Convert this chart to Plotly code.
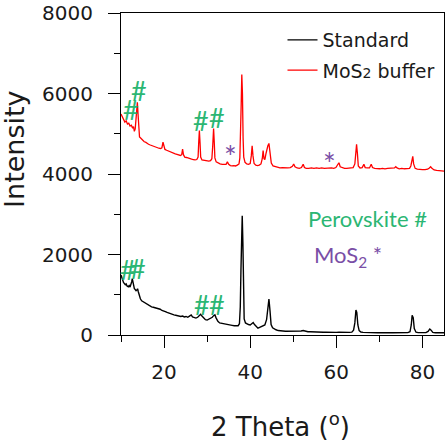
import plotly.graph_objects as go

# ---------------- data ----------------
std_x = [10.0, 10.2, 10.4, 10.6, 10.8, 11.0, 11.2, 11.4, 11.7, 11.9, 12.1, 12.3, 12.5, 12.62, 12.75,
         12.9, 13.1, 13.3, 13.5, 13.7, 13.85, 14.0, 14.2, 14.5, 14.8, 15.1, 15.5, 15.9, 16.3, 16.7,
         17.1, 17.5, 17.9, 18.3, 18.7, 19.1, 19.5, 19.9, 20.3, 20.7, 21.1, 21.5, 21.9, 22.3, 22.7,
         23.1, 23.5, 23.9, 24.3, 24.7, 25.1, 25.5, 25.9, 26.3, 26.6, 27.0, 27.4, 27.8, 28.2, 28.5,
         28.8, 29.2, 29.6, 30.0, 30.4, 30.8, 31.2, 31.5, 31.8, 32.1, 32.5, 32.9, 33.3, 33.8, 34.3,
         34.8, 35.3, 35.8, 36.3, 36.8, 37.2, 37.5, 37.7, 37.85, 38.0, 38.15, 38.3, 38.45, 38.6, 38.9,
         39.2, 39.6, 40.0, 40.4, 40.7, 41.0, 41.4, 41.8, 42.2, 42.6, 43.0, 43.4, 43.8, 44.1, 44.35,
         44.6, 44.85, 45.2, 45.6, 46.0, 46.5, 47.0, 47.6, 48.2, 48.8, 49.4, 50.0, 50.6, 51.2, 51.8,
         52.3, 52.8, 53.4, 54.0, 54.6, 55.2, 55.8, 56.4, 57.0, 57.6, 58.2, 58.8, 59.4, 60.0, 60.6,
         61.2, 61.8, 62.4, 63.0, 63.6, 64.0, 64.3, 64.55, 64.75, 65.0, 65.3, 65.7, 66.2, 66.8, 67.5,
         68.2, 68.9, 69.6, 70.3, 71.0, 71.7, 72.4, 73.1, 73.8, 74.5, 75.2, 75.9, 76.6, 77.1, 77.4,
         77.6, 77.85, 78.1, 78.5, 79.0, 79.6, 80.2, 80.8, 81.3, 81.7, 82.0, 82.4, 83.0, 83.6, 84.2,
         85.2]
std_y = [1490, 1420, 1330, 1300, 1280, 1250, 1270, 1220, 1200, 1230, 1190, 1250, 1330, 1400, 1300,
         1200, 1150, 1130, 1100, 1120, 1150, 1080, 980, 900, 850, 830, 800, 780, 750, 720,
         700, 690, 680, 670, 650, 640, 610, 600, 580, 560, 540, 530, 510, 500, 490,
         480, 470, 460, 470, 450, 460, 440, 470, 500, 450, 430, 420, 440, 480, 515,
         470, 410, 380, 370, 390, 410, 440, 480, 500, 420, 340, 300, 290, 280, 260,
         260, 250, 240, 230, 230, 230, 280, 700, 1600, 2200, 2960, 2300, 900, 400, 300,
         280, 260, 250, 280, 310, 260, 200, 170, 190, 210, 230, 250, 380, 650, 890,
         600, 260, 180, 150, 130, 110, 100, 100, 95, 95, 90, 85, 90, 85, 100,
         110, 90, 80, 80, 75, 75, 70, 75, 70, 70, 65, 65, 65, 65, 70,
         65, 60, 60, 65, 70, 120, 300, 620, 560, 250, 110, 75, 65, 60, 60,
         60, 60, 55, 55, 60, 55, 55, 55, 55, 55, 55, 60, 60, 80, 250,
         490, 430, 160, 70, 60, 55, 55, 60, 90, 150, 120, 65, 55, 55, 55,
         55]

mos_x = [10.0, 10.3, 10.6, 10.9, 11.2, 11.5, 11.8, 12.1, 12.4, 12.7, 12.9, 13.1, 13.3, 13.5, 13.65,
         13.8, 13.95, 14.1, 14.3, 14.5, 14.8, 15.1, 15.4, 15.7, 16.0, 16.4, 16.8, 17.2, 17.6, 18.0,
         18.4, 18.8, 19.2, 19.5, 19.75, 19.95, 20.2, 20.6, 21.0, 21.4, 21.8, 22.2, 22.6, 23.0, 23.4,
         23.8, 24.1, 24.3, 24.5, 24.8, 25.2, 25.6, 26.0, 26.4, 26.8, 27.2, 27.6, 27.9, 28.05, 28.2,
         28.35, 28.5, 28.8, 29.2, 29.6, 30.0, 30.4, 30.8, 31.1, 31.3, 31.5, 31.65, 31.8, 32.1, 32.5,
         33.0, 33.5, 34.0, 34.4, 34.7, 35.0, 35.4, 35.8, 36.2, 36.6, 37.0, 37.4, 37.6, 37.75, 37.9,
         38.05, 38.2, 38.35, 38.5, 38.8, 39.2, 39.6, 40.0, 40.25, 40.45, 40.65, 40.9, 41.3, 41.7, 42.1,
         42.5, 42.8, 43.0, 43.2, 43.4, 43.65, 43.9, 44.1, 44.35, 44.6, 44.9, 45.3, 45.8, 46.3, 46.9,
         47.5, 48.1, 48.7, 49.3, 49.8, 50.1, 50.4, 50.9, 51.4, 51.9, 52.3, 52.6, 53.0, 53.6, 54.2,
         54.8, 55.4, 56.0, 56.6, 57.2, 57.8, 58.4, 58.9, 59.4, 59.9, 60.3, 60.6, 60.9, 61.4, 61.9,
         62.4, 62.9, 63.4, 63.9, 64.3, 64.5, 64.7, 64.9, 65.1, 65.5, 66.0, 66.4, 66.7, 67.2, 67.7,
         68.1, 68.4, 68.9, 69.5, 70.1, 70.7, 71.3, 71.9, 72.5, 73.0, 73.5, 73.8, 74.1, 74.6, 75.2,
         75.8, 76.4, 77.0, 77.3, 77.55, 77.75, 77.95, 78.3, 78.8, 79.4, 80.0, 80.6, 81.2, 81.6, 81.9,
         82.2, 82.7, 83.3, 83.9, 84.5, 85.2]
mos_y = [5490, 5420, 5380, 5290, 5320, 5240, 5260, 5190, 5210, 5140, 5180, 5060, 5120, 5350, 5700,
         5780, 5500, 5050, 4920, 4900, 4860, 4840, 4800, 4790, 4760, 4740, 4720, 4700, 4690, 4660,
         4650, 4640, 4630, 4650, 4790, 4700, 4610, 4590, 4570, 4550, 4540, 4520, 4500, 4490, 4470,
         4460, 4480, 4620, 4480, 4420, 4410, 4390, 4380, 4370, 4360, 4350, 4360, 4420, 4800, 5080,
         4780, 4420, 4350, 4340, 4330, 4330, 4320, 4330, 4380, 4700, 5130, 4800, 4400, 4300, 4270,
         4250, 4240, 4230, 4240, 4300, 4240, 4210, 4200, 4210, 4200, 4220, 4250, 4400, 5600, 5700,
         6470, 6000, 4900, 4420, 4290, 4250, 4240, 4260, 4450, 4700, 4450, 4260, 4220, 4210, 4220,
         4250, 4380, 4580, 4380, 4360, 4500, 4650, 4700, 4760, 4500, 4270, 4200, 4180, 4170, 4150,
         4160, 4150, 4150, 4160, 4190, 4250, 4180, 4150, 4140, 4160, 4240, 4160, 4140, 4140, 4150,
         4140, 4150, 4140, 4150, 4140, 4150, 4160, 4150, 4140, 4160, 4230, 4280, 4180, 4150, 4140,
         4140, 4150, 4150, 4160, 4250, 4600, 4740, 4500, 4200, 4150, 4160, 4240, 4160, 4150, 4150,
         4240, 4160, 4140, 4130, 4130, 4140, 4130, 4140, 4140, 4140, 4150, 4180, 4150, 4130, 4140,
         4130, 4140, 4140, 4200, 4400, 4440, 4250, 4140, 4120, 4110, 4110, 4110, 4120, 4150, 4180,
         4140, 4100, 4090, 4080, 4070, 4070]

series_names = ["Standard", "MoS<span style='font-size:14px'>2</span> buffer"]
series_colors = ["#000000", "#ff0000"]

# marker labels: perovskite (#) and MoS2 (*) reflections
perov_x = [12.3, 14.2, 28.5, 32.2, 11.6, 13.9, 28.9, 32.4]
perov_y = [5610, 6070, 5340, 5400, 1630, 1650, 770, 760]
mos2_x = [35.4, 58.4]
mos2_y = [4575, 4410]

x_range = [10, 85]
y_range = [0, 8000]

GREEN = "#2bb673"
PURPLE = "#7a4ea6"
FONT = "DejaVu Sans"

fig = go.Figure()
fig.add_trace(go.Scatter(x=std_x, y=std_y, mode="lines", name=series_names[0],
                         line=dict(color=series_colors[0], width=1.4), legend="legend"))
fig.add_trace(go.Scatter(x=mos_x, y=mos_y, mode="lines", name=series_names[1],
                         line=dict(color=series_colors[1], width=1.3), legend="legend2"))

annotations = []
for px, py in zip(perov_x, perov_y):
    annotations.append(dict(x=px, y=py, xref="x", yref="y", text="#", showarrow=False,
                            font=dict(family="Lato", size=27, color=GREEN)))
for px, py in zip(mos2_x, mos2_y):
    annotations.append(dict(x=px, y=py, xref="x", yref="y", text="*", showarrow=False,
                            yshift=-5, font=dict(family="Lato", size=30, color=PURPLE)))
annotations.append(dict(x=67.3, y=2900, xref="x", yref="y", text="Perovskite #", showarrow=False,
                        font=dict(family="Lato", size=22, color=GREEN)))
annotations.append(dict(x=54.4, y=1960, xref="x", yref="y", xanchor="left",
                        text="MoS<sub>2</sub> *", showarrow=False,
                        font=dict(family="Lato", size=22, color=PURPLE)))
annotations.append(dict(x=-0.328, y=0.578, xref="paper", yref="paper", text="Intensity",
                        xanchor="center", yanchor="middle",
                        textangle=-90, showarrow=False,
                        font=dict(family=FONT, size=27, color="#1a1a1a")))
annotations.append(dict(x=0.495, y=-0.281, xref="paper", yref="paper",
                        xanchor="center", yanchor="middle",
                        text="2 Theta (<sup>o</sup>)", showarrow=False,
                        font=dict(family=FONT, size=26, color="#1a1a1a")))

axis_common = dict(showline=True, linecolor="black", linewidth=1, mirror=True,
                   ticks="outside", ticklen=12, tickwidth=1, tickcolor="black",
                   showgrid=False, zeroline=False,
                   tickfont=dict(family=FONT, size=20, color="#1a1a1a"))

fig.update_layout(
    width=446, height=441,
    margin=dict(l=121, r=2, t=13, b=106),
    paper_bgcolor="white", plot_bgcolor="white",
    xaxis=dict(range=x_range, tick0=0, dtick=20, ticklabelstandoff=7,
               minor=dict(dtick=10, tick0=0, ticklen=6, ticks="outside", tickcolor="black"),
               **axis_common),
    yaxis=dict(range=y_range, dtick=2000, ticklabelstandoff=11,
               minor=dict(dtick=1000, ticklen=6, ticks="outside", tickcolor="black"),
               **axis_common),
    legend=dict(x=0.50, y=0.916, xanchor="left", yanchor="middle", bgcolor="rgba(0,0,0,0)",
                font=dict(family=FONT, size=19, color="#1a1a1a")),
    legend2=dict(x=0.50, y=0.822, xanchor="left", yanchor="middle", bgcolor="rgba(0,0,0,0)",
                 font=dict(family=FONT, size=19, color="#1a1a1a")),
    annotations=annotations,
    showlegend=True,
)

# remove the default 8px page margin so the 446x441 figure fills the window exactly
fig.write_html("out.html", config={"displayModeBar": False},
               post_script="document.body.style.margin='0';document.body.style.overflow='hidden';")
